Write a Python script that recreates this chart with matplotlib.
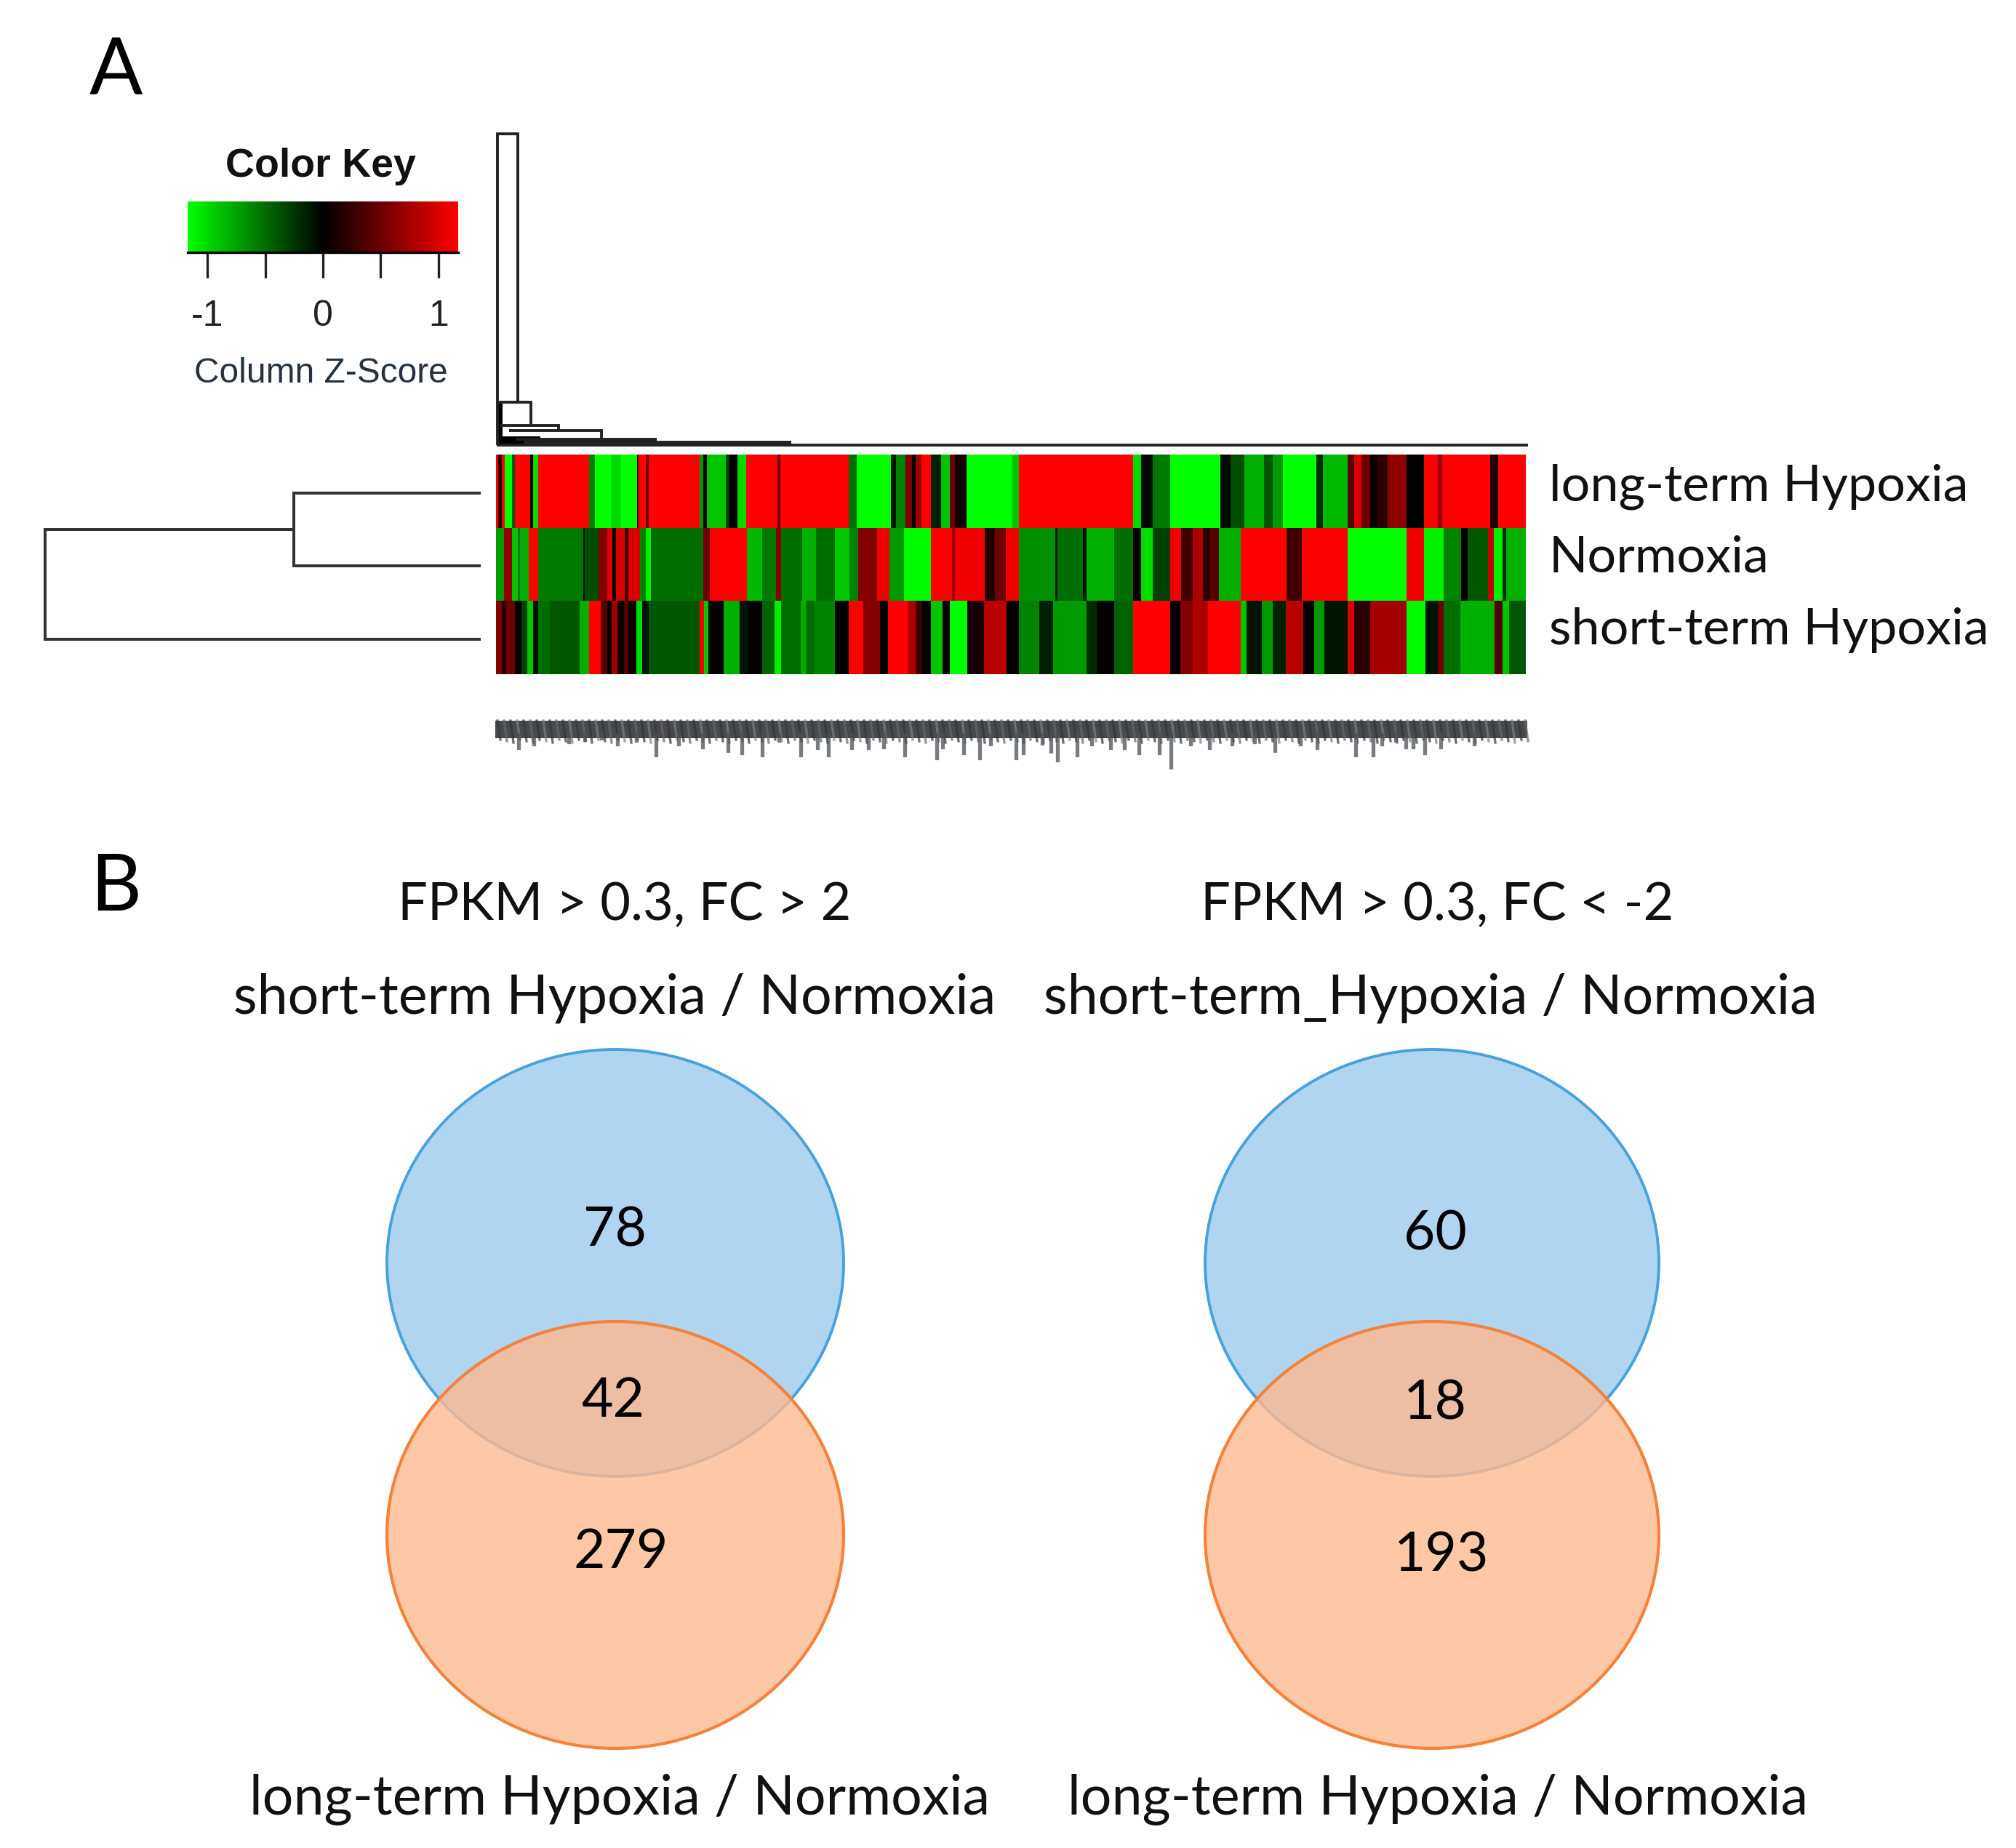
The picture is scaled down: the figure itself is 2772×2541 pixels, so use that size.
import numpy as np
import matplotlib
matplotlib.use("Agg")
import matplotlib.pyplot as plt
from matplotlib.colors import LinearSegmentedColormap, Normalize
from matplotlib.patches import Ellipse, Rectangle

W, H = 2772, 2541

# heatmap rows as (segment end, z score), columns are positions along the row
long_term = [(52,1.2),(62,.2),(70,1.2),(92,-1.2),(100,-.4),(143,1.2),(152,0),(167,-1),(312,1.2),(330,-.6),(375,-1.2),(405,-1),(450,-1.2),(455,.3),
    (475,1.2),(483,.5),(630,1.2),(640,-.7),(652,.1),(705,-.9),(715,-.3),(740,0),(765,-1),(855,1.2),(862,.5),(1058,1.2),(1082,-.5),(1180,-1.2),
    (1195,-.1),(1222,-.6),(1240,.6),(1252,0),(1268,.7),(1295,1.2),(1325,-.15),(1350,-.9),(1365,.5),(1398,.1),(1530,-1.2),(1547,-.9),
    (1877,1.2),(1899,-1),(1932,-.05),(1983,-.55),(2127,-1.2),(2157,-.05),(2197,-.35),(2252,-.8),(2277,-.4),(2307,-.7),(2402,-1.2),(2422,-.2),(2492,-.85),
    (2512,.4),(2532,1),(2557,.5),(2577,.05),(2607,.2),(2662,.65),(2712,0),(2752,1.2),(2765,.7),(2902,1.2),(2925,.15),(3005,1.2)]
normoxia = [(68,-.7),(92,.65),(108,-.9),(115,-.5),(140,-.8),(167,1.2),(295,-.55),(300,-.05),(340,-.35),(365,.6),(380,1),(390,.05),(415,1),(425,.3),
    (458,1),(475,-.6),(490,-1.1),(640,-.5),(660,.5),(767,1.2),(810,-.85),(850,-.55),(865,.6),(925,-.5),(965,-.8),(1020,-.5),(1060,-.9),(1085,-.6),
    (1140,.6),(1175,1.1),(1218,-.7),(1295,-1.15),(1355,1.2),(1365,.7),(1450,1.1),(1480,.15),(1510,.5),(1547,1.1),
    (1652,-.65),(1659,-.1),(1732,-.5),(1742,-.1),(1822,-.8),(1877,-.5),(1899,0),(1932,-1),(1983,-.3),(2015,1.1),(2047,.3),(2077,.8),(2097,.2),(2122,.4),
    (2185,-.8),(2317,1.2),(2362,.3),(2492,1.15),(2662,-1.2),(2712,1.1),(2769,-1.1),(2819,-.6),(2837,0),(2897,-.4),(2912,.9),(2939,-1.1),(2949,-.2),(3005,-.8)]
short_term = [(62,.6),(75,.15),(100,.5),(118,0),(135,-.3),(152,-.9),(167,-.1),(200,-.5),(285,-.4),(312,-.8),(345,1.2),(365,.4),(378,0),(395,.75),(412,.05),
    (425,.4),(448,.05),(465,-1),(485,-.1),(630,-.4),(642,1.1),(655,-.9),(700,0),(745,-.8),(768,-.1),(810,0),(845,-.45),(865,-1.1),(920,-.5),(935,-.8),
    (960,-.5),(1020,-.6),(1058,0),(1100,1.2),(1148,.6),(1172,0),(1228,1.2),(1252,.8),(1270,.3),(1295,0),(1328,-.9),(1350,0),(1400,-1.2),(1448,.1),(1512,.85),(1547,0),
    (1607,-.6),(1647,-.15),(1742,-.7),(1772,-.2),(1822,0),(1877,-.45),(1983,1.2),(2012,0),(2047,.6),(2092,.8),(2185,1.2),(2202,-.9),(2247,-.1),(2277,-.7),(2315,-.15),
    (2365,.85),(2397,0),(2427,-.7),(2492,-.1),(2512,1),(2557,.2),(2662,.75),(2717,-1.15),(2752,-.1),(2769,.5),(2817,-.5),(2915,-.8),(2939,.4),(2957,-.9),(3005,-.4)]
row_labels = ["long-term Hypoxia", "Normoxia", "short-term Hypoxia"]
row_label_y = [669, 767, 866]

# colour key
key_ticks = [-1, -0.5, 0, 0.5, 1]
key_labels = ["-1", "", "0", "", "1"]

# dendrogram lines, pixel positions
row_dendro = [[(661,678),(404,678),(404,778),(661,778)], [(404,728),(62,728),(62,879),(661,879)]]
col_dendro = [[(684,612),(684,184),(712,184),(712,553)], [(686,553),(730,553),(730,583)], [(688,585),(768,585),(768,592)],
    [(700,592),(827,592),(827,603)], [(710,604),(903,604)], [(720,608),(1088,608)], [(683,612),(2101,612)]]

# label strip: drips under the unreadable gene names (x, bottom y)
label_drips = [(713,1028),(734,1023),(782,1020),(804,1017),(827,1015),(849,1023),(875,1018),(902,1038),(933,1023),(966,1027),(1001,1032),(1020,1035),
    (1048,1038),(1071,1018),(1101,1038),(1124,1028),(1139,1038),(1171,1028),(1194,1028),(1215,1027),(1244,1038),(1288,1042),(1296,1027),(1325,1035),(1347,1042),
    (1362,1023),(1397,1042),(1407,1035),(1433,1022),(1445,1033),(1454,1045),(1481,1038),(1501,1023),(1527,1028),(1546,1028),(1566,1035),(1594,1035),(1610,1055),
    (1637,1023),(1663,1028),(1694,1023),(1725,1020),(1753,1032),(1788,1023),(1811,1028),(1864,1038),(1888,1038),(1900,1023),(1919,1018),(1933,1027),(1943,1027),
    (1959,1035),(1981,1027),(2027,1023)]

# venn panels
venn_left = {"top": "78", "both": "42", "bottom": "279"}
venn_right = {"top": "60", "both": "18", "bottom": "193"}

z_cmap = LinearSegmentedColormap.from_list("gkr", ["#00ff00", "#000000", "#ff0000"])
z_norm = Normalize(-1.17, 1.17)


def px_axes(fig, x0, y0, x1, y1):
    return fig.add_axes([x0 / W, 1 - y1 / H, (x1 - x0) / W, (y1 - y0) / H])


fig = plt.figure(figsize=(W / 100, H / 100), dpi=100, facecolor="white")

# overlay in pixel coordinates for text, dendrograms and circles
ax = fig.add_axes([0, 0, 1, 1])
ax.set_xlim(0, W)
ax.set_ylim(H, 0)
ax.axis("off")

# heatmap
hm = px_axes(fig, 682, 625, 2098, 927)
for i, row in enumerate([long_term, normoxia, short_term]):
    edges = [45] + [s[0] for s in row]
    vals = np.array([[s[1] for s in row]])
    hm.pcolormesh(edges, [i, i + 1], vals, cmap=z_cmap, norm=z_norm, linewidth=0, rasterized=True)
hm.set_xlim(45, 3005)
hm.set_ylim(3, 0)
hm.axis("off")

# colour key
key = px_axes(fig, 258, 277, 630, 347)
grad = np.linspace(-1.17, 1.17, 256).reshape(1, -1)
key.imshow(grad, cmap=z_cmap, norm=z_norm, aspect="auto", extent=(-1.17, 1.17, 0, 1))
key.set_yticks([])
key.set_xticks(key_ticks)
key.set_xticklabels(key_labels, fontfamily="Liberation Sans", fontsize=36, color="#222222")
key.tick_params(axis="x", length=25, width=2.4, pad=22, color="#222222")
for s in ["top", "left", "right"]:
    key.spines[s].set_visible(False)
key.spines["bottom"].set_linewidth(2.4)
ax.text(441, 229, "Color Key", family="Liberation Sans", weight="bold", fontsize=40, ha="center", va="center", color="#111111")
ax.text(441, 514, "Column Z-Score", family="Liberation Sans", fontsize=34.5, ha="center", va="center", color="#26323f")

# dendrograms
for seg in row_dendro:
    xs, ys = zip(*seg)
    ax.plot(xs, ys, color="#333333", lw=2.9, solid_joinstyle="miter", solid_capstyle="butt")
for seg in col_dendro:
    xs, ys = zip(*seg)
    ax.plot(xs, ys, color="#222222", lw=2.8, solid_joinstyle="miter", solid_capstyle="butt")
# solid dark parts where the lower branches of the tree merge
ax.add_patch(Rectangle((683, 553), 8, 59, color="black", lw=0))
ax.add_patch(Rectangle((683, 600), 60, 12, color="black", lw=0))
ax.add_patch(Rectangle((683, 604), 220, 8, color="black", lw=0))
ax.add_patch(Rectangle((903, 607), 185, 5, color="black", lw=0))

# gene label strip
ax.add_patch(Rectangle((681, 991), 1419, 24, color="#474a4d", lw=0))
strip_x = np.arange(684, 2100, 9)
strip_colors = ["#2f3a40", "#6a6468", "#333338", "#7a7f80"]
for k, x in enumerate(strip_x):
    ax.plot([x, x + 4], [991, 1017 + (k % 3) * 2], color=strip_colors[k % 4], lw=2.4, alpha=0.7)
for x, yb in label_drips:
    ax.plot([x, x], [1010, yb], color="#4b4f55", lw=3.8, alpha=0.75)

for name, y in zip(row_labels, row_label_y):
    ax.text(2130, y, name, family="Lato", fontsize=50.5, ha="left", va="center", color="#111111")

# panel letters
ax.text(159, 99, "A", family="Lato", fontsize=78, ha="center", va="center", color="black")
ax.text(159, 1222, "B", family="Lato", fontsize=78, ha="center", va="center", color="black")

# venn diagrams
for cx, rx, vals, num_x, num_y in [
    (846, 314, venn_left, (845, 843, 854), (1692, 1927, 2135)),
    (1969, 312, venn_right, (1973, 1973, 1982), (1697, 1930, 2139)),
]:
    ax.add_patch(Ellipse((cx, 1736.5), 2 * rx, 587, fc="#b0d5f0", ec="#46a2dc", lw=2.8))
    ax.add_patch(Ellipse((cx, 2110.5), 2 * rx, 587, fc="#feb990", ec="none", alpha=0.8))
    ax.add_patch(Ellipse((cx, 2110.5), 2 * rx, 587, fc="none", ec="#f5813a", lw=3))
    for k, x, y in zip(["top", "both", "bottom"], num_x, num_y):
        ax.text(x, y, vals[k], family="Lato", fontsize=54, ha="center", va="center", color="black")

head_kw = dict(family="Lato", fontsize=52, ha="center", va="center", color="#111111")
sub_kw = dict(family="Lato", fontsize=54.3, ha="center", va="center", color="#111111")
ax.text(859, 1245, "FPKM > 0.3, FC > 2", **head_kw)
ax.text(1976, 1245, "FPKM > 0.3, FC < -2", **head_kw)
ax.text(845, 1372, "short-term Hypoxia / Normoxia", **sub_kw)
ax.text(1967, 1372, "short-term_Hypoxia / Normoxia", **sub_kw)
ax.text(852, 2474, "long-term Hypoxia / Normoxia", **sub_kw)
ax.text(1977, 2474, "long-term Hypoxia / Normoxia", **sub_kw)

fig.savefig("out.png", dpi=100)
